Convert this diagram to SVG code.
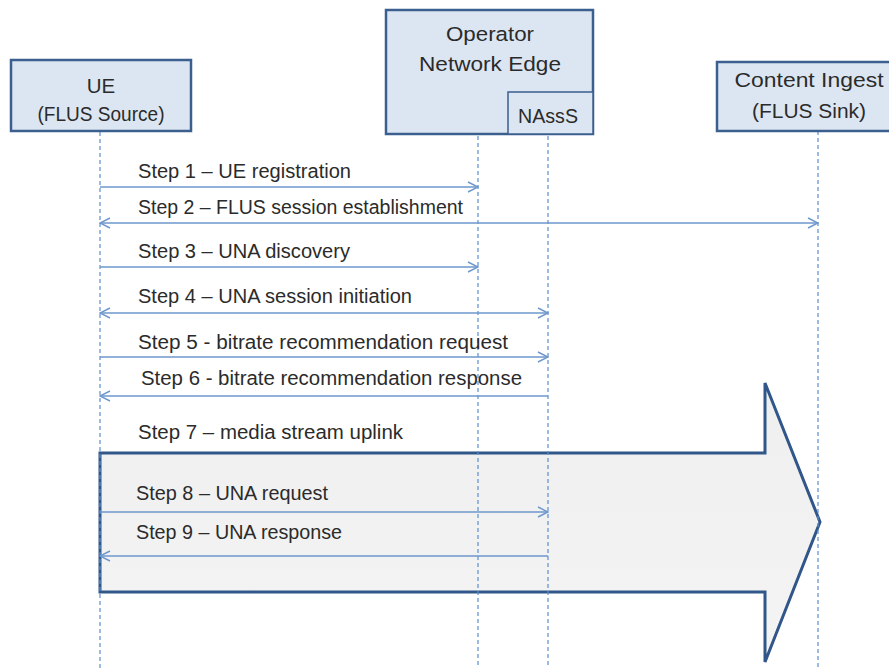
<svg xmlns="http://www.w3.org/2000/svg" width="889" height="668" viewBox="0 0 889 668">
  <style>
    .box { fill: #dce6f2; stroke: #3b5f8e; stroke-width: 2.5; }
    .sub { fill: #dce6f2; stroke: #3b5f8e; stroke-width: 1.5; }
    .life { stroke: #5b8fd0; stroke-width: 1.2; stroke-dasharray: 4 3; fill: none; }
    .msg { stroke: #6e97cc; stroke-width: 1.4; fill: none; }
    .t { font-family: "Liberation Sans", Arial, sans-serif; font-size: 19.5px; fill: #2b2b2b; }
    .n { font-family: "Liberation Sans", Arial, sans-serif; font-size: 20.5px; fill: #2b2b2b; text-anchor: middle; }
  </style>
  <defs>
    <marker id="open" viewBox="0 0 12 12" refX="11" refY="6" markerWidth="12" markerHeight="12" markerUnits="userSpaceOnUse" orient="auto-start-reverse">
      <path d="M1,1 L11,6 L1,11" fill="none" stroke="#6e97cc" stroke-width="1.4"/>
    </marker>
    <linearGradient id="bodyFill" x1="0" y1="0" x2="0" y2="1">
      <stop offset="0" stop-color="#efefef"/>
      <stop offset="1" stop-color="#f4f4f4"/>
    </linearGradient>
  </defs>

  <rect width="889" height="668" fill="#ffffff"/>

  <!-- media stream uplink block arrow -->
  <g id="uplink">
    <polygon points="100,453 765,453 765,383 820,522 765,662 765,592 100,592" fill="url(#bodyFill)" stroke="#31568a" stroke-width="3" stroke-linejoin="miter"/>
  </g>

  <!-- lifelines -->
  <g id="lifelines">
    <line class="life" x1="100" y1="132" x2="100" y2="668"/>
    <line class="life" x1="478" y1="136" x2="478" y2="668"/>
    <line class="life" x1="548" y1="136" x2="548" y2="668"/>
    <line class="life" x1="818" y1="131" x2="818" y2="668"/>
  </g>

  <!-- participants -->
  <g id="ue">
    <rect class="box" x="11" y="60" width="180" height="71"/>
    <text class="n" x="101" y="93">UE</text>
    <text class="n" x="101" y="121" textLength="127" lengthAdjust="spacingAndGlyphs">(FLUS Source)</text>
  </g>
  <g id="operator">
    <rect class="box" x="386" y="10" width="207" height="124"/>
    <text class="n" x="490" y="41" textLength="88" lengthAdjust="spacingAndGlyphs">Operator</text>
    <text class="n" x="490" y="71" textLength="142" lengthAdjust="spacingAndGlyphs">Network Edge</text>
  </g>
  <g id="nasss">
    <rect class="sub" x="508" y="92" width="85" height="42"/>
    <text class="n" x="548" y="123" textLength="60" lengthAdjust="spacingAndGlyphs">NAssS</text>
  </g>
  <g id="sink">
    <rect class="box" x="717" y="62" width="180" height="69"/>
    <text class="n" x="809" y="87" textLength="149" lengthAdjust="spacingAndGlyphs">Content Ingest</text>
    <text class="n" x="809" y="118" textLength="114" lengthAdjust="spacingAndGlyphs">(FLUS Sink)</text>
  </g>

  <!-- messages -->
  <g id="connectors">
    <line class="msg" x1="100" y1="187" x2="478" y2="187" marker-end="url(#open)"/>
    <line class="msg" x1="100" y1="223" x2="818" y2="223" marker-start="url(#open)" marker-end="url(#open)"/>
    <line class="msg" x1="100" y1="267" x2="478" y2="267" marker-end="url(#open)"/>
    <line class="msg" x1="100" y1="313" x2="548" y2="313" marker-start="url(#open)" marker-end="url(#open)"/>
    <line class="msg" x1="100" y1="357" x2="548" y2="357" marker-end="url(#open)"/>
    <line class="msg" x1="548" y1="396" x2="100" y2="396" marker-end="url(#open)"/>
    <line class="msg" x1="100" y1="512" x2="548" y2="512" marker-end="url(#open)"/>
    <line class="msg" x1="548" y1="556" x2="100" y2="556" marker-end="url(#open)"/>
  </g>

  <!-- message labels -->
  <g id="labels">
    <text class="t" x="138" y="178" textLength="213" lengthAdjust="spacingAndGlyphs">Step 1 – UE registration</text>
    <text class="t" x="138" y="214" textLength="325" lengthAdjust="spacingAndGlyphs">Step 2 – FLUS session establishment</text>
    <text class="t" x="138" y="258" textLength="212" lengthAdjust="spacingAndGlyphs">Step 3 – UNA discovery</text>
    <text class="t" x="138" y="303" textLength="274" lengthAdjust="spacingAndGlyphs">Step 4 – UNA session initiation</text>
    <text class="t" x="138" y="349" textLength="370" lengthAdjust="spacingAndGlyphs">Step 5 - bitrate recommendation request</text>
    <text class="t" x="141" y="385" textLength="381" lengthAdjust="spacingAndGlyphs">Step 6 - bitrate recommendation response</text>
    <text class="t" x="138" y="439" textLength="265" lengthAdjust="spacingAndGlyphs">Step 7 – media stream uplink</text>
    <text class="t" x="136" y="500" textLength="192" lengthAdjust="spacingAndGlyphs">Step 8 – UNA request</text>
    <text class="t" x="136" y="539" textLength="206" lengthAdjust="spacingAndGlyphs">Step 9 – UNA response</text>
  </g>
</svg>
